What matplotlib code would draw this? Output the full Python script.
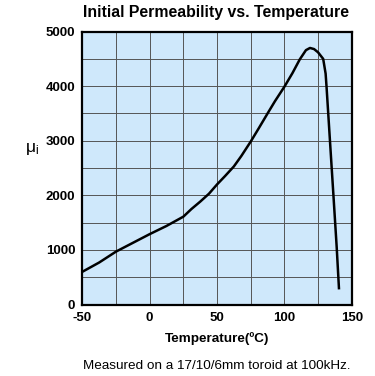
import matplotlib
matplotlib.use("Agg")
import matplotlib.pyplot as plt

# values
temp = [-50, -37.5, -25, -12.5, 0, 12.5, 25, 31, 37.5, 44, 50, 56, 62.5, 68, 75, 81,
        87.5, 93, 100, 106, 111.4, 116, 119, 122, 125, 128.8, 130.6, 131.3, 133.8,
        136.3, 138.8, 140.5]
mu = [600, 770, 970, 1130, 1290, 1440, 1610, 1750, 1885, 2030, 2200, 2355, 2530, 2720,
      2985, 3230, 3500, 3725, 3990, 4240, 4490, 4660, 4700, 4680, 4620, 4500, 4230,
      3985, 3010, 2040, 1060, 300]
xticks = [-50, 0, 50, 100, 150]
yticks = [0, 1000, 2000, 3000, 4000, 5000]

plt.rcParams['font.family'] = ['Liberation Sans', 'DejaVu Sans']

fig = plt.figure(figsize=(3.75, 3.76), dpi=100)
ax = fig.add_axes([0.2195, 0.19, 0.7185, 0.726])
ax.set_facecolor('#cfe8fb')

ax.plot(temp, mu, color='black', lw=1.8, solid_joinstyle='round')

ax.set_xlim(-50, 150)
ax.set_ylim(0, 5000)
ax.set_xticks(range(-50, 151, 25), minor=True)
ax.set_yticks(range(0, 5001, 500), minor=True)
ax.set_xticks(xticks)
ax.set_yticks(yticks)
ax.set_xticklabels([str(t) for t in xticks], fontweight='bold', fontsize=9.5)
ax.set_yticklabels([str(t) for t in yticks], fontweight='bold', fontsize=9.5)
ax.tick_params(which='both', length=0, pad=5)
ax.grid(which='both', color='#555555', lw=0.7)
ax.set_axisbelow(True)
for s in ax.spines.values():
    s.set_linewidth(1.6)

ax.set_xlabel('Temperature(ºC)', fontweight='bold', fontsize=9.7, labelpad=6)
fig.text(0.085, 0.605, r'$\mathregular{\mu_i}$', fontsize=12.5, ha='center', va='center')
fig.text(0.575, 0.968, 'Initial Permeability vs. Temperature', fontweight='bold',
         fontsize=11.4, ha='center', va='center')
fig.text(0.578, 0.027, 'Measured on a 17/10/6mm toroid at 100kHz.', fontsize=9.7,
         ha='center', va='center')

fig.savefig('out.png', dpi=100)
